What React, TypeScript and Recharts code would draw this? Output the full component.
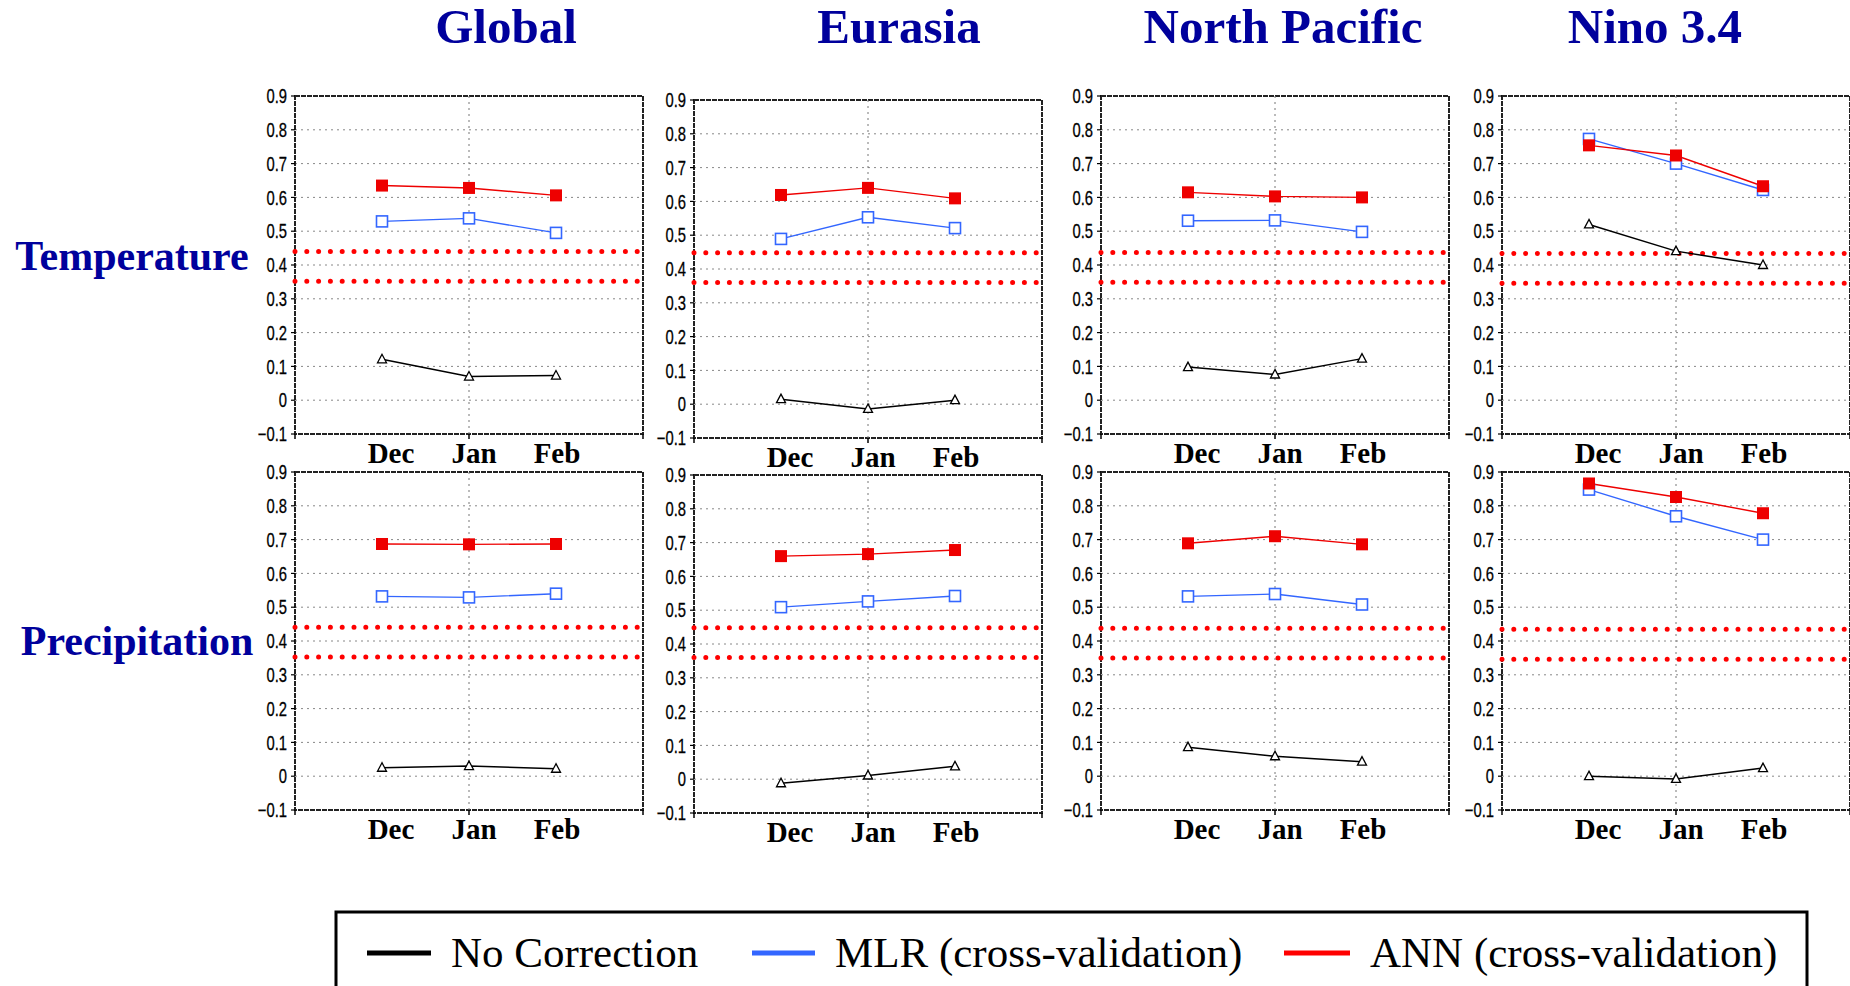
import React from 'react';
import { LineChart, Line, XAxis, YAxis, CartesianGrid, ReferenceLine, ReferenceArea } from 'recharts';

const months = ['Dec', 'Jan', 'Feb'];
const monthPos = [1, 2, 3];
const xTicks = [0, 1, 2, 3, 4];
const yTicks = [-0.1, 0, 0.1, 0.2, 0.3, 0.4, 0.5, 0.6, 0.7, 0.8, 0.9];
const regions = ['Global', 'Eurasia', 'North Pacific', 'Nino 3.4'];
const variables = ['Temperature', 'Precipitation'];
const seriesNames = ['No Correction', 'MLR (cross-validation)', 'ANN (cross-validation)'];
const seriesColors = ['#000000', '#3366ff', '#ee0000'];

// one row per region: Dec, Jan, Feb
const tempNoCorrection = [
  [0.121, 0.070, 0.073],
  [0.015, -0.014, 0.012],
  [0.098, 0.076, 0.123],
  [0.520, 0.441, 0.400],
];
const tempMLR = [
  [0.529, 0.538, 0.495],
  [0.489, 0.553, 0.521],
  [0.531, 0.532, 0.498],
  [0.773, 0.700, 0.622],
];
const tempANN = [
  [0.635, 0.628, 0.606],
  [0.619, 0.640, 0.609],
  [0.615, 0.603, 0.600],
  [0.754, 0.724, 0.633],
];
const tempSigHigh = [0.440, 0.448, 0.437, 0.434];
const tempSigLow = [0.352, 0.360, 0.349, 0.346];

const precNoCorrection = [
  [0.025, 0.030, 0.022],
  [-0.012, 0.011, 0.038],
  [0.086, 0.059, 0.043],
  [0.000, -0.008, 0.024],
];
const precMLR = [
  [0.532, 0.529, 0.540],
  [0.509, 0.526, 0.542],
  [0.532, 0.539, 0.508],
  [0.848, 0.769, 0.700],
];
const precANN = [
  [0.687, 0.686, 0.687],
  [0.660, 0.666, 0.678],
  [0.689, 0.710, 0.686],
  [0.866, 0.826, 0.778],
];
const precSigHigh = [0.441, 0.448, 0.438, 0.435];
const precSigLow = [0.353, 0.360, 0.350, 0.346];

const serif = "'Liberation Serif', 'Times New Roman', serif";
const sans = "'Liberation Sans', Arial, sans-serif";
const navy = '#00009c';

const plotLeft = [295, 694, 1101, 1502];
const plotTop = [
  [96, 100, 96, 96],
  [472, 475, 472, 472],
];
const labelShift = [9, 5, 1];

const triangleDot = (p: any) => {
  const { cx, cy, index } = p;
  if (cx == null || cy == null) return <g key={`t${index}`} />;
  return (
    <polygon
      key={`t${index}`}
      points={`${cx},${cy - 5} ${cx - 4.5},${cy + 3.5} ${cx + 4.5},${cy + 3.5}`}
      fill="#fff"
      stroke="#000"
      strokeWidth={1.3}
    />
  );
};

const openSquareDot = (p: any) => {
  const { cx, cy, index } = p;
  if (cx == null || cy == null) return <g key={`o${index}`} />;
  return <rect key={`o${index}`} x={cx - 5.5} y={cy - 5.5} width={11} height={11} fill="#fff" stroke="#3366ff" strokeWidth={1.6} />;
};

const filledSquareDot = (p: any) => {
  const { cx, cy, index } = p;
  if (cx == null || cy == null) return <g key={`f${index}`} />;
  return <rect key={`f${index}`} x={cx - 6} y={cy - 6} width={12} height={12} fill="#ee0000" />;
};

const MonthTick = (p: any) => {
  const { x, y, payload } = p;
  const v = payload.value;
  const idx = monthPos.indexOf(v);
  return (
    <g>
      {v % 2 === 0 && <line x1={x} x2={x} y1={y} y2={y + 5} stroke="#000" strokeWidth={1.5} />}
      {idx >= 0 && (
        <text x={x + labelShift[idx]} y={y + 29} textAnchor="middle" fontFamily={serif} fontWeight="bold" fontSize={29} fill="#000">
          {months[idx]}
        </text>
      )}
    </g>
  );
};

const fmtY = (v: number) => (v === 0 ? '0' : (v < 0 ? '\u2212' : '') + Math.abs(v).toFixed(1));

// narrow tick labels like the original plotting package
const ValueTick = (p: any) => {
  const { x, y, payload } = p;
  return (
    <g transform={`translate(${x},${y}) scale(0.74,1)`}>
      <text x={0} y={0} dy="0.36em" textAnchor="end" fontFamily={sans} fontSize={20} fill="#000" stroke="#000" strokeWidth={0.3}>
        {fmtY(payload.value)}
      </text>
    </g>
  );
};

function Panel({ row, col }: { row: number; col: number }) {
  const nc = row === 0 ? tempNoCorrection : precNoCorrection;
  const mlr = row === 0 ? tempMLR : precMLR;
  const ann = row === 0 ? tempANN : precANN;
  const hi = row === 0 ? tempSigHigh : precSigHigh;
  const lo = row === 0 ? tempSigLow : precSigLow;

  const data = monthPos.map((x, i) => ({
    x,
    month: months[i],
    nc: nc[col][i],
    mlr: mlr[col][i],
    ann: ann[col][i],
  }));

  return (
    <div style={{ position: 'absolute', left: plotLeft[col] - 50, top: plotTop[row][col] - 14 }}>
      <LineChart width={402} height={392} data={data} margin={{ top: 14, right: 4, bottom: 0, left: 0 }}>
        <CartesianGrid vertical={false} stroke="#888" strokeDasharray="2 4" />
        <XAxis
          dataKey="x"
          type="number"
          domain={[0, 4]}
          ticks={xTicks}
          interval={0}
          height={40}
          axisLine={false}
          tickLine={false}
          tickSize={0}
          tickMargin={0}
          tick={<MonthTick />}
        />
        <YAxis
          type="number"
          domain={[-0.1, 0.9]}
          ticks={yTicks}
          interval={0}
          width={50}
          axisLine={false}
          tickLine={{ stroke: '#000', strokeWidth: 1.2 }}
          tickSize={4}
          tickMargin={4}
          tick={<ValueTick />}
        />
        <ReferenceLine x={2} stroke="#777" strokeDasharray="2 4" />
        <ReferenceLine y={hi[col]} stroke="#ff0000" strokeWidth={5} strokeDasharray="0 11.8" strokeLinecap="round" />
        <ReferenceLine y={lo[col]} stroke="#ff0000" strokeWidth={5} strokeDasharray="0 11.8" strokeLinecap="round" />
        <ReferenceArea x1={0} x2={4} y1={-0.1} y2={0.9} fill="none" fillOpacity={0} stroke="#222" strokeWidth={2} strokeDasharray="5 1" />
        <Line dataKey="nc" stroke={seriesColors[0]} strokeWidth={1.5} dot={triangleDot} isAnimationActive={false} />
        <Line dataKey="mlr" stroke={seriesColors[1]} strokeWidth={1.4} dot={openSquareDot} isAnimationActive={false} />
        <Line dataKey="ann" stroke={seriesColors[2]} strokeWidth={1.4} dot={filledSquareDot} isAnimationActive={false} />
      </LineChart>
    </div>
  );
}

const titleX = [506, 899, 1283, 1655];
const rowLabelX = [132, 137];
const rowLabelY = [270, 655];
const legendSwatch = [[367, 431], [752, 815], [1284, 1350]];
const legendTextX = [451, 835, 1370];

export default function App() {
  return (
    <div style={{ position: 'absolute', left: 0, top: 0, width: 1850, height: 986, overflow: 'hidden', background: '#fff' }}>
      <svg width={1850} height={986} style={{ position: 'absolute', left: 0, top: 0 }}>
        {regions.map((r, i) => (
          <text key={r} x={titleX[i]} y={43} textAnchor="middle" fontFamily={serif} fontWeight="bold" fontSize={49} fill={navy}>
            {r}
          </text>
        ))}
        {variables.map((v, i) => (
          <text key={v} x={rowLabelX[i]} y={rowLabelY[i]} textAnchor="middle" fontFamily={serif} fontWeight="bold" fontSize={42} fill={navy}>
            {v}
          </text>
        ))}
        <rect x={336} y={912} width={1471} height={100} fill="none" stroke="#000" strokeWidth={3} />
        {seriesNames.map((s, i) => (
          <g key={s}>
            <line x1={legendSwatch[i][0]} x2={legendSwatch[i][1]} y1={953} y2={953} stroke={i === 2 ? '#ff0000' : seriesColors[i]} strokeWidth={5} />
            <text x={legendTextX[i]} y={967} fontFamily={serif} fontSize={43} fill="#000">
              {s}
            </text>
          </g>
        ))}
      </svg>
      {[0, 1].map((row) => [0, 1, 2, 3].map((col) => <Panel key={`${row}-${col}`} row={row} col={col} />))}
    </div>
  );
}
